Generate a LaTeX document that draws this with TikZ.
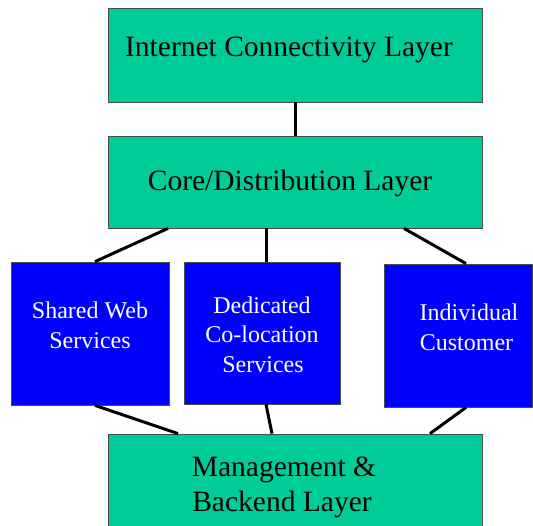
\documentclass[tikz,border=0pt]{standalone}
\usepackage{fontspec}
\setmainfont{Liberation Serif}
\usepackage{tikz}
\definecolor{layergreen}{HTML}{00CC99}
\definecolor{serviceblue}{HTML}{0000FF}
% one line of text with no height or depth, lowered by #1
\newcommand{\flatline}[2][0pt]{\raisebox{#1}[0pt][0pt]{#2}}
\begin{document}
\begin{tikzpicture}[x=1pt,y=-1pt,
    layer/.style={rectangle,draw=black!70,line width=0.8pt,fill=layergreen,inner sep=0pt,
      minimum width=374pt,align=center,font=\fontsize{29.5}{35}\selectfont},
    service/.style={rectangle,draw=black!70,line width=0.8pt,fill=serviceblue,inner sep=0pt,
      text=white,align=center,font=\fontsize{24}{29.5}\selectfont},
    link/.style={line width=3pt,black}]

    \useasboundingbox (0,0) rectangle (533,525);

    \node[layer,minimum height=94pt]     (inet) at (295, 55)     {\flatline[-1.7pt]{\hspace*{-12pt}Internet Connectivity Layer}};
    \node[layer,minimum height=92pt]     (core) at (295, 182)    {\flatline[-8.7pt]{\hspace*{-10pt}Core/Distribution Layer}};
    \node[service,minimum width=158pt,minimum height=143pt] (shared) at (90, 333.5)  {\flatline{Shared Web}\\\flatline{Services}};
    \node[service,minimum width=156pt,minimum height=142pt] (dedic)  at (262, 333)   {\flatline[-9.5pt]{Dedicated}\\\flatline[-9.5pt]{Co-location}\\\flatline[-9.5pt]{\hspace*{2pt}Services}};
    \node[service,minimum width=148pt,minimum height=143pt] (cust)   at (458, 335.5) {\flatline{\hspace*{22pt}Individual}\\\flatline{\hspace*{17pt}Customer}};
    \node[layer,minimum height=94pt]     (mgmt) at (295, 481)    {\flatline[-13.2pt]{\hspace*{-22pt}Management \&}\\\flatline[-13.2pt]{\hspace*{-26pt}Backend Layer}};

    \draw[link] (inet.south) -- (core.north);
    \draw[link] ([xshift=-127pt]core.south) -- ([xshift=5pt]shared.north);
    \draw[link] ([xshift=-29pt]core.south)  -- ([xshift=4pt]dedic.north);
    \draw[link] ([xshift=109pt]core.south)  -- ([xshift=8pt]cust.north);
    \draw[link] ([xshift=5pt]shared.south)  -- ([xshift=-117pt]mgmt.north);
    \draw[link] ([xshift=4pt]dedic.south)   -- ([xshift=-23pt]mgmt.north);
    \draw[link] ([xshift=8pt]cust.south)    -- ([xshift=135pt]mgmt.north);
  \end{tikzpicture}
\end{document}
